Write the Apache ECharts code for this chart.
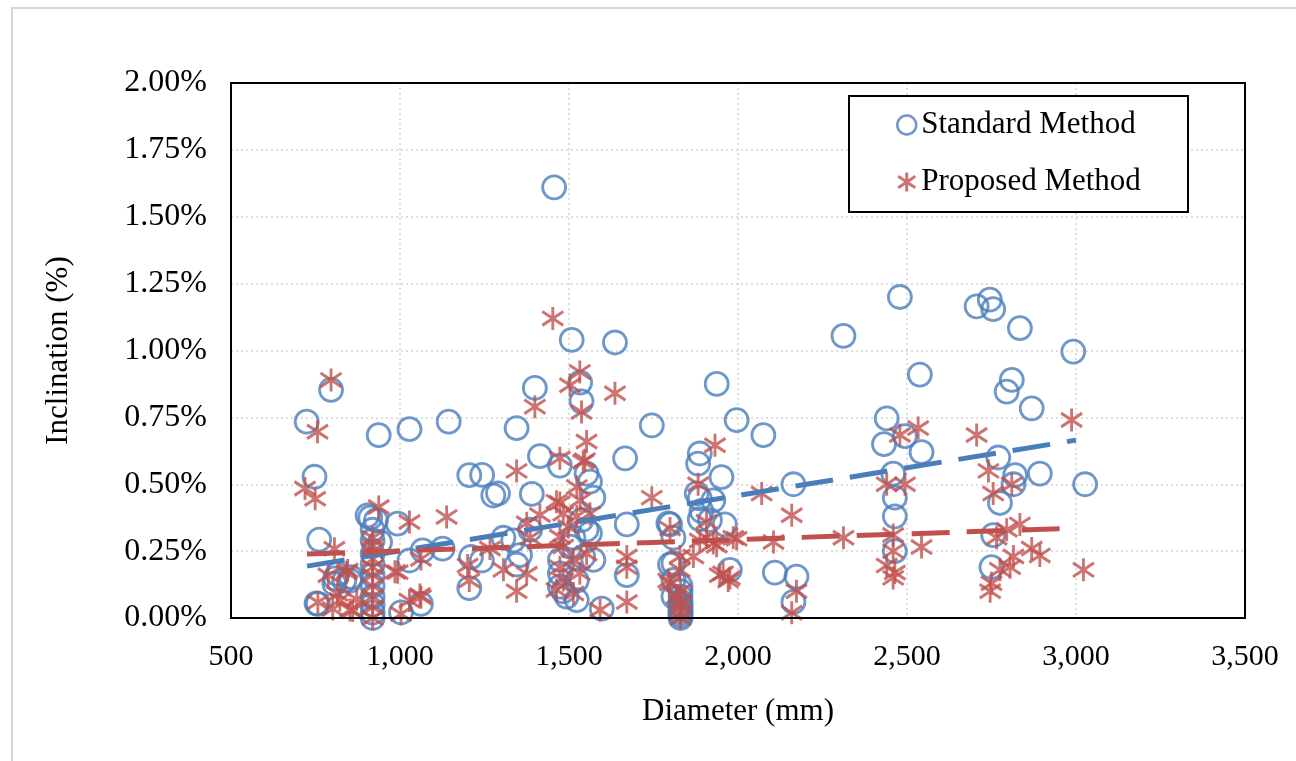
<!DOCTYPE html>
<html>
<head>
<meta charset="utf-8">
<script src="https://cdn.jsdelivr.net/npm/echarts@6/dist/echarts.min.js"></script>
<style>html,body{margin:0;padding:0;background:#fff;}#c{width:1296px;height:761px;}</style>
</head>
<body>
<div id="c"></div>
<script>
// Diameter (mm), Inclination (%)
var standardPoints = [
  [724,0.734],[796,0.853],[937,0.684],[1028,0.706],[1144,0.734],[747,0.528],[1205,0.534],[904,0.384],[912,0.375],[929,0.365],
  [993,0.353],[761,0.293],[941,0.284],[1067,0.253],[1126,0.259],[1028,0.215],[1210,0.228],[1205,0.112],[815,0.165],[855,0.153],
  [806,0.128],[835,0.14],[757,0.053],[1003,0.021],[1062,0.053],[808,0.148],[852,0.14],[753,0.055],
  [919,0.33],[919,0.29],[919,0.24],[919,0.2],[919,0.16],[919,0.12],[919,0.08],[919,0.05],[919,0.02],[919,0.0],
  [1456,1.61],[1508,1.04],[1636,1.03],[1399,0.86],[1533,0.88],[1537,0.81],[1937,0.875],[1745,0.72],[1996,0.74],[1345,0.71],
  [1414,0.605],[1473,0.57],[1666,0.597],[1887,0.615],[1882,0.577],[1951,0.527],[1552,0.54],[1562,0.51],[1572,0.45],[1276,0.458],
  [1290,0.466],[1390,0.464],[1887,0.447],[1927,0.44],[1671,0.35],[1799,0.35],[1887,0.37],[1961,0.35],[1242,0.215],[1345,0.2],
  [1385,0.33],[1306,0.3],[1671,0.16],[1799,0.2],[1597,0.035],[1243,0.535],
  [1335,0.29],[1355,0.235],[1552,0.33],[1562,0.317],[1572,0.217],[1473,0.217],[1473,0.167],[1473,0.117],[1493,0.08],[1523,0.067],
  [1523,0.14],[1503,0.267],[1542,0.229],[1513,0.30],[1537,0.366],[1483,0.10],
  [1794,0.354],[1809,0.30],[1809,0.204],[1809,0.142],[1809,0.08],[1878,0.466],[1892,0.40],[1917,0.366],
  [1830,0.0],[1830,0.01],[1830,0.02],[1830,0.03],[1830,0.04],[1830,0.05],[1830,0.06],[1830,0.08],[1830,0.10],[1830,0.12],
  [2479,1.2],[2312,1.055],[2538,0.91],[2075,0.684],[2440,0.746],[2432,0.65],[2494,0.68],[2543,0.62],[2164,0.5],[2459,0.54],
  [2464,0.45],[2464,0.38],[2464,0.25],[2109,0.17],[2173,0.155],[2164,0.06],[1976,0.18],[2706,1.165],[2745,1.19],[2755,1.155],
  [2834,1.084],[2992,0.996],[2810,0.89],[2795,0.846],[2869,0.784],[2770,0.6],[2893,0.54],[2820,0.534],[2815,0.5],[2775,0.43],
  [3027,0.5],[2755,0.31],[2750,0.19]
];
var proposedPoints = [
  [796,0.89],[756,0.696],[719,0.484],[749,0.446],[937,0.415],[1028,0.359],[1138,0.378],[806,0.259],[993,0.171],[1062,0.221],
  [1200,0.196],[1205,0.14],[845,0.178],[815,0.09],[757,0.059],[801,0.034],[860,0.028],[1028,0.065],[1062,0.078],[1003,0.015],
  [788,0.16],[842,0.17],[872,0.07],[822,0.067],[852,0.03],[985,0.173],[1059,0.086],
  [919,0.3],[919,0.27],[919,0.25],[919,0.22],[919,0.19],[919,0.16],[919,0.12],[919,0.08],[919,0.04],[919,0.0],
  [1452,1.12],[1532,0.92],[1503,0.87],[1636,0.84],[1537,0.77],[1399,0.79],[1932,0.646],[1552,0.66],[1473,0.597],[1547,0.59],
  [1345,0.55],[1745,0.45],[1882,0.5],[1523,0.49],[1473,0.43],[1414,0.385],[1266,0.26],[1306,0.18],[1375,0.165],[1345,0.1],
  [1671,0.23],[1671,0.19],[1671,0.06],[1592,0.03],[1385,0.3],[1799,0.335],[1828,0.23],[1794,0.14],[1907,0.3],[1927,0.28],
  [1868,0.23],[1946,0.16],[1971,0.14],[1986,0.3],
  [1542,0.584],[1463,0.435],[1533,0.44],[1483,0.39],[1562,0.39],[1375,0.354],[1498,0.34],[1523,0.38],[1473,0.304],[1552,0.24],
  [1483,0.267],[1513,0.217],[1473,0.19],[1532,0.167],[1483,0.142],[1463,0.105],[1513,0.092],
  [1907,0.36],[1887,0.29],[1937,0.27],[1956,0.167],[1799,0.13],[1828,0.18],[1818,0.08],
  [1830,0.0],[1830,0.02],[1830,0.04],[1830,0.06],[1830,0.10],
  [2070,0.465],[2159,0.384],[2105,0.284],[2312,0.3],[2459,0.31],[2440,0.5],[2494,0.5],[2479,0.684],[2533,0.71],[2706,0.684],
  [2543,0.265],[2440,0.196],[2464,0.17],[2459,0.15],[2459,0.25],[2173,0.1],[2159,0.02],[1996,0.296],[1976,0.15],[2987,0.74],
  [2741,0.55],[2810,0.5],[2755,0.465],[2834,0.35],[2795,0.33],[2765,0.3],[2869,0.26],[2893,0.234],[2815,0.23],[2805,0.19],
  [2775,0.18],[2750,0.13],[2746,0.1],[3022,0.18]
];
var standardTrend = [[725,0.194],[3000,0.665]];
var proposedTrend = [[725,0.239],[3000,0.336]];
var seriesNames = ['Standard Method','Proposed Method'];

var BLUE = '#4a7ebb', RED = '#c0504d';
var FONT = '"Liberation Serif","Times New Roman",serif';
var starPath = 'path://M0,-10L0,10M-9,-6L9,6M-9,6L9,-6';

var chart = echarts.init(document.getElementById('c'), null, {renderer:'canvas'});
chart.setOption({
  backgroundColor:'#fff',
  animation:false,
  graphic:[
    {type:'rect', shape:{x:12,y:8,width:1300,height:800}, style:{fill:'none',stroke:'#d6d6d6',lineWidth:2}, z:-1},
    {type:'rect', shape:{x:231,y:83,width:1014,height:535}, style:{fill:'none',stroke:'#000',lineWidth:2}, z:40},
    {type:'rect', shape:{x:849,y:96,width:339,height:116}, style:{fill:'#fff',stroke:'#000',lineWidth:2}, z:50}
  ],
  grid:{left:231,right:51,top:83,bottom:143,show:false},
  legend:{
    data:[
      {name:seriesNames[0], icon:'circle', itemStyle:{color:'rgba(0,0,0,0)',borderColor:BLUE,borderWidth:2.5}},
      {name:seriesNames[1], icon:starPath, itemStyle:{color:'rgba(0,0,0,0)',borderColor:RED,borderWidth:3}}
    ],
    orient:'vertical', left:896, top:108, padding:0, itemWidth:19, itemHeight:19, itemGap:23,
    textStyle:{fontFamily:FONT, fontSize:31, color:'#000', lineHeight:34, padding:[0,0,0,0]},
    z:60, selectedMode:false
  },
  xAxis:{
    type:'value', min:500, max:3500, interval:500,
    name:'Diameter (mm)', nameLocation:'middle', nameGap:78,
    nameTextStyle:{fontFamily:FONT, fontSize:31, color:'#000'},
    axisLine:{show:false}, axisTick:{show:false},
    axisLabel:{fontFamily:FONT, fontSize:30, color:'#000', margin:24,
      formatter:function(v){return v.toLocaleString('en-US');}},
    splitLine:{show:true, lineStyle:{color:'#d4d4d4', width:1.5, type:[2,3]}}
  },
  yAxis:{
    type:'value', min:0, max:2, interval:0.25,
    name:'Inclination (%)', nameLocation:'middle', nameGap:157,
    nameTextStyle:{fontFamily:FONT, fontSize:31, color:'#000'},
    axisLine:{show:false}, axisTick:{show:false},
    axisLabel:{fontFamily:FONT, fontSize:32, color:'#000', margin:24,
      formatter:function(v){return v.toFixed(2)+'%';}},
    splitLine:{show:true, lineStyle:{color:'#d4d4d4', width:1.5, type:[2,3]}}
  },
  series:[
    {name:seriesNames[0], type:'scatter', data:standardPoints, symbol:'circle', symbolSize:23,
      itemStyle:{color:'rgba(0,0,0,0)', borderColor:BLUE, borderWidth:2.8}, z:3},
    {name:seriesNames[1], type:'scatter', data:proposedPoints, symbol:starPath, symbolSize:[21,23],
      itemStyle:{color:'rgba(0,0,0,0)', borderColor:RED, borderWidth:3}, z:4},
    {name:'Standard Trend', type:'line', data:standardTrend, symbol:'none', silent:true,
      lineStyle:{color:BLUE, width:5, type:[38,17]}, z:5},
    {name:'Proposed Trend', type:'line', data:proposedTrend, symbol:'none', silent:true,
      lineStyle:{color:RED, width:5, type:[38,17]}, z:5}
  ]
});
</script>
</body>
</html>
